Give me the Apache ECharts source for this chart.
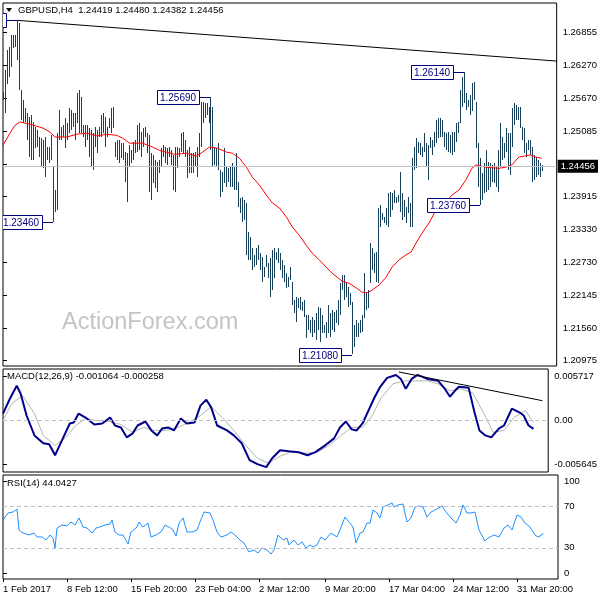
<!DOCTYPE html>
<html>
<head>
<meta charset="utf-8">
<script src="https://cdn.jsdelivr.net/npm/echarts@6/dist/echarts.min.js"></script>
<style>
html,body{margin:0;padding:0;background:#fff}
#chart{width:600px;height:600px}
</style>
</head>
<body>
<div id="chart"></div>
<script>
// GBPUSD H4 bars, high / low per bar (bar index = position on the chart)
const barHigh = [
  1.2578,1.2618,1.2654,1.2659,1.2680,1.2680,1.2680,1.2707,1.2702,1.2582,
  1.2564,1.2550,1.2541,1.2534,1.2537,1.2525,1.2516,1.2510,1.2498,1.2496,
  1.2492,1.2498,1.2480,1.2480,1.2501,1.2444,1.2403,1.2505,1.2546,1.2516,
  1.2519,1.2532,1.2523,1.2550,1.2546,1.2541,1.2541,1.2577,1.2582,1.2569,
  1.2519,1.2519,1.2519,1.2514,1.2510,1.2505,1.2516,1.2510,1.2516,1.2537,
  1.2541,1.2534,1.2516,1.2532,1.2550,1.2551,1.2489,1.2492,1.2492,1.2487,
  1.2487,1.2471,1.2469,1.2483,1.2474,1.2489,1.2492,1.2519,1.2523,1.2507,
  1.2514,1.2516,1.2505,1.2501,1.2469,1.2466,1.2457,1.2453,1.2457,1.2478,
  1.2483,1.2480,1.2478,1.2480,1.2474,1.2466,1.2480,1.2480,1.2478,1.2505,
  1.2507,1.2492,1.2474,1.2480,1.2469,1.2469,1.2471,1.2480,1.2505,1.2560,
  1.2560,1.2559,1.2559,1.2551,1.2569,1.2551,1.2480,1.2478,1.2487,1.2439,
  1.2435,1.2478,1.2444,1.2442,1.2444,1.2451,1.2444,1.2469,1.2417,1.2389,
  1.2390,1.2385,1.2380,1.2328,1.2319,1.2299,1.2287,1.2299,1.2304,1.2290,
  1.2283,1.2265,1.2287,1.2272,1.2281,1.2295,1.2299,1.2292,1.2299,1.2290,
  1.2278,1.2269,1.2254,1.2247,1.2265,1.2238,1.2206,1.2211,1.2210,1.2211,
  1.2202,1.2206,1.2179,1.2179,1.2170,1.2176,1.2170,1.2183,1.2193,1.2192,
  1.2179,1.2161,1.2167,1.2197,1.2183,1.2188,1.2185,1.2188,1.2206,1.2236,
  1.2251,1.2251,1.2236,1.2229,1.2219,1.2202,1.2161,1.2170,1.2165,1.2170,
  1.2179,1.2254,1.2220,1.2224,1.2308,1.2299,1.2290,1.2292,1.2371,1.2376,
  1.2362,1.2355,1.2371,1.2398,1.2399,1.2398,1.2403,1.2390,1.2394,1.2435,
  1.2398,1.2385,1.2372,1.2390,1.2380,1.2460,1.2480,1.2496,1.2489,1.2487,
  1.2480,1.2505,1.2487,1.2483,1.2498,1.2492,1.2507,1.2528,1.2532,1.2532,
  1.2528,1.2507,1.2505,1.2507,1.2501,1.2507,1.2507,1.2523,1.2525,1.2582,
  1.2605,1.2614,1.2577,1.2564,1.2573,1.2594,1.2596,1.2560,1.2487,1.2460,
  1.2433,1.2451,1.2474,1.2453,1.2451,1.2448,1.2451,1.2444,1.2474,1.2523,
  1.2498,1.2487,1.2514,1.2505,1.2505,1.2550,1.2559,1.2555,1.2551,1.2551,
  1.2516,1.2514,1.2487,1.2492,1.2492,1.2480,1.2466,1.2462,1.2457,1.2451,
  1.2448
];
const barLow = [
  1.2564,1.2541,1.2594,1.2605,1.2623,1.2657,1.2659,1.2636,1.2582,1.2528,
  1.2523,1.2525,1.2492,1.2462,1.2457,1.2457,1.2478,1.2480,1.2462,1.2444,
  1.2442,1.2426,1.2457,1.2451,1.2457,1.2346,1.2364,1.2367,1.2492,1.2492,
  1.2498,1.2478,1.2492,1.2505,1.2510,1.2516,1.2492,1.2523,1.2505,1.2505,
  1.2498,1.2480,1.2492,1.2462,1.2444,1.2439,1.2480,1.2469,1.2498,1.2498,
  1.2505,1.2480,1.2498,1.2514,1.2505,1.2514,1.2462,1.2457,1.2451,1.2460,
  1.2457,1.2417,1.2381,1.2444,1.2451,1.2457,1.2469,1.2471,1.2474,1.2462,
  1.2480,1.2498,1.2469,1.2399,1.2385,1.2415,1.2406,1.2399,1.2433,1.2444,
  1.2462,1.2451,1.2448,1.2462,1.2448,1.2403,1.2399,1.2442,1.2462,1.2471,
  1.2469,1.2462,1.2424,1.2433,1.2433,1.2433,1.2444,1.2426,1.2462,1.2480,
  1.2523,1.2532,1.2537,1.2523,1.2474,1.2444,1.2448,1.2444,1.2439,1.2390,
  1.2399,1.2415,1.2408,1.2417,1.2408,1.2408,1.2403,1.2403,1.2372,1.2362,
  1.2346,1.2349,1.2287,1.2278,1.2278,1.2260,1.2265,1.2269,1.2278,1.2260,
  1.2238,1.2247,1.2265,1.2245,1.2211,1.2224,1.2245,1.2278,1.2272,1.2260,
  1.2245,1.2238,1.2228,1.2229,1.2242,1.2197,1.2183,1.2167,1.2192,1.2188,
  1.2185,1.2176,1.2138,1.2152,1.2147,1.2140,1.2147,1.2134,1.2152,1.2131,
  1.2147,1.2147,1.2138,1.2147,1.2140,1.2152,1.2149,1.2165,1.2161,1.2179,
  1.2224,1.2206,1.2211,1.2193,1.2197,1.2108,1.2122,1.2140,1.2140,1.2147,
  1.2149,1.2174,1.2188,1.2192,1.2236,1.2260,1.2254,1.2238,1.2236,1.2337,
  1.2349,1.2344,1.2340,1.2337,1.2355,1.2367,1.2380,1.2380,1.2381,1.2364,
  1.2349,1.2355,1.2344,1.2362,1.2337,1.2337,1.2439,1.2442,1.2469,1.2466,
  1.2462,1.2471,1.2444,1.2421,1.2478,1.2466,1.2480,1.2487,1.2496,1.2498,
  1.2498,1.2480,1.2474,1.2471,1.2469,1.2466,1.2471,1.2489,1.2505,1.2523,
  1.2551,1.2559,1.2546,1.2551,1.2537,1.2543,1.2564,1.2478,1.2408,1.2376,
  1.2385,1.2398,1.2398,1.2403,1.2408,1.2417,1.2415,1.2408,1.2399,1.2444,
  1.2457,1.2460,1.2471,1.2439,1.2430,1.2480,1.2519,1.2528,1.2528,1.2514,
  1.2492,1.2469,1.2462,1.2474,1.2466,1.2417,1.2421,1.2426,1.2430,1.2426,
  1.2438
];

// moving average (red), read every few bars: [bar, price]
const maLine = [
  [0,1.2483],[3.5,1.2505],[6,1.2519],[8.5,1.2525],[13.5,1.2521],[20,1.2514],[23.5,1.2507],
  [26,1.2498],[32,1.2498],[37,1.2503],[42,1.2505],[47,1.2500],[52,1.2503],[57,1.2501],
  [60,1.2496],[63.5,1.2487],[70,1.2487],[75,1.2480],[78.5,1.2474],[86,1.2467],[92,1.2469],
  [97,1.2464],[100,1.2471],[103.5,1.2480],[107.5,1.2478],[112,1.2471],[115,1.2469],
  [118.5,1.2460],[122,1.2444],[125,1.2426],[128.5,1.2412],[132,1.2394],[135,1.2380],
  [138.5,1.2371],[142,1.2355],[145,1.2337],[148.5,1.2322],[152,1.2304],[155,1.2290],
  [158.5,1.2278],[162,1.2265],[165,1.2254],[170,1.2240],[173.5,1.2236],[177,1.2228],
  [180,1.2220],[182.5,1.2219],[185,1.2224],[188.5,1.2233],[192,1.2247],[195,1.2265],
  [198.5,1.2278],[202,1.2287],[204.5,1.2292],[207,1.2308],[210,1.2326],[213.5,1.2344],
  [217,1.2367],[222,1.2381],[225,1.2394],[228.5,1.2403],[232,1.2421],[235,1.2442],
  [237,1.2448],[242,1.2444],[248.5,1.2442],[252,1.2444],[255,1.2448],[258.5,1.2462],
  [264.5,1.2466],[267,1.2462],[270,1.2460]
];

// drawn trend line on price and on MACD
const priceTrend = [[7,1.2707],[277.5,1.2634]];
const macdTrend = [[201.5,0.00622],[274.5,0.00254]];
const lastPrice = 1.24456;

// swing labels: [bar, price, text]
const swingBars = [7, 25, 104, 175, 231, 239];
const swingPrices = [1.2707, 1.2346, 1.2569, 1.2108, 1.2614, 1.2376];
const swingTexts = ['1.27070', '1.23460', '1.25690', '1.21080', '1.26140', '1.23760'];

// MACD(12,26,9): main and signal, [bar, value]
const macdMain = [
  [0,0.00089],[3.5,0.00279],[7,0.00445],[9,0.00343],[12,0.00064],[16,-0.00191],[20.5,-0.00292],
  [23.5,-0.00305],[26.5,-0.00445],[30,-0.00254],[34,-0.00038],[36,-0.00025],[38.5,0.00089],
  [42,0.00038],[46.5,-0.00051],[50.5,-0.00038],[54.5,0.00038],[57,-0.00064],[60,-0.00089],
  [63,-0.00216],[66,-0.00165],[68.5,-0.00064],[72.5,-0.00013],[75.5,-0.00127],[78.5,-0.00191],
  [81,-0.00102],[84,-0.00089],[87,-0.00127],[90.5,0.00025],[93.5,-0.00038],[97.5,-0.00025],
  [100.5,0.00191],[103.5,0.00267],[106,0.00165],[109,-0.00064],[114,-0.00127],[117.5,-0.00191],
  [121.5,-0.00292],[125.5,-0.00508],[129.5,-0.00559],[134,-0.00597],[137,-0.00483],[141,-0.00381],
  [145.5,-0.00394],[150.5,-0.00406],[155,-0.00445],[159,-0.00406],[164,-0.00318],[168.5,-0.00229],
  [171.5,-0.00089],[174.5,-0.00013],[177.5,-0.00114],[180,-0.00127],[183,-0.00038],[186,0.00127],
  [189,0.00292],[192,0.00432],[195.5,0.00546],[200,0.00584],[202.5,0.00533],[205,0.00406],
  [208,0.00533],[211,0.00584],[216,0.00533],[221.5,0.00508],[224.5,0.00419],[227.5,0.00305],
  [230,0.00381],[232,0.00432],[237,0.00419],[240,0.00102],[242.5,-0.00127],[245.5,-0.00191],
  [248.5,-0.00216],[252.5,-0.00102],[255,-0.00064],[259,0.00152],[263,0.00102],[265,0.00064],
  [267.5,-0.00064],[270,-0.001064]
];
const macdSignal = [
  [0,0],[4.5,0.00216],[10,0.00318],[16,0.00089],[20.5,-0.00191],[26.5,-0.00318],[32,-0.00216],
  [37,-0.00064],[42,0.00025],[47.5,0],[54.5,-0.00013],[60,-0.00051],[66,-0.00152],[71.5,-0.00089],
  [77.5,-0.00127],[83,-0.00127],[89,-0.00089],[94.5,-0.00025],[100.5,0.00064],[106,0.00178],
  [112,0.00025],[117.5,-0.00127],[123.5,-0.00318],[129.5,-0.00483],[135,-0.00546],[141,-0.00457],
  [146.5,-0.00406],[154.5,-0.00419],[160,-0.00406],[166,-0.00318],[171.5,-0.00203],[177.5,-0.00089],
  [183,-0.00089],[188,0.00064],[192.5,0.00292],[198.5,0.00470],[204.5,0.00508],[210,0.00508],
  [216,0.00508],[221.5,0.00470],[227.5,0.00381],[233,0.00406],[239,0.00356],[244.5,0.00102],
  [249.5,-0.00152],[255,-0.00127],[260,0.00038],[266,0.00127],[270,-0.000258]
];

// RSI(14), [bar, value]
const rsiLine = [
  [0,56.7],[2.5,63.5],[5,64.4],[7,67.3],[8,47.1],[10,44.2],[13,42.3],[15.5,44.2],[17,40.4],
  [19.5,40.4],[21.5,37.5],[23.5,42.3],[25,39.4],[26,29.8],[27,49.0],[29.5,51.9],[32,51.0],
  [34,54.8],[36,51.9],[38,58.7],[40,50.0],[42,49.0],[44.5,44.2],[46.5,49.0],[48.5,50.0],
  [51,51.9],[53.5,52.9],[54.5,56.7],[56,45.2],[58,42.3],[60,42.3],[62.5,33.7],[64,45.2],
  [67,50.0],[68,54.8],[70,50.0],[72.5,53.8],[74,40.4],[76.5,42.3],[79,45.2],[81,51.9],
  [83,50.0],[85,47.1],[86.5,41.3],[88,53.8],[90,58.7],[92,45.2],[94.5,45.2],[97,47.1],
  [98.5,54.8],[100.5,64.4],[103.5,63.5],[105,56.7],[107,45.2],[109,40.4],[112,42.3],[114,45.2],
  [116,42.3],[118.5,37.5],[120.5,34.6],[123,26.0],[125.5,27.9],[127.5,25.0],[129.5,29.8],
  [132,27.9],[134,24.0],[135.5,27.9],[137.5,42.3],[140,37.5],[142,39.4],[143,32.7],[145.5,37.5],
  [147.5,32.7],[149.5,35.6],[151.5,29.8],[153.5,32.7],[155,30.8],[157,32.7],[159,40.4],
  [161,37.5],[164,44.2],[167,40.4],[168.5,47.1],[171,59.6],[173,54.8],[175,50.0],[176.5,34.6],
  [178.5,44.2],[180,45.2],[182,53.8],[183.5,53.8],[185,66.3],[187,63.5],[188.5,58.7],[190,69.2],
  [192.5,71.2],[194.5,73.1],[195.5,69.2],[197.5,71.2],[200,72.1],[202,54.8],[204,58.7],
  [206,69.2],[208,70.2],[210,69.2],[212,59.6],[214,64.4],[217,67.3],[219.5,70.2],[221.5,64.4],
  [224,58.7],[226.5,53.8],[228.5,61.5],[230,71.2],[232,63.5],[234,63.5],[236,64.4],[238,47.1],
  [241,36.5],[242.5,39.4],[245.5,42.3],[248,40.4],[250.5,49.0],[252.5,51.9],[254.5,47.1],
  [257,61.5],[259,59.6],[261,53.8],[263.5,50.0],[266,42.3],[267.5,40.4],[269.5,42.3],[270,44.04]
];

// axis ticks
const priceTicks = [1.26855,1.26270,1.25670,1.25085,1.24500,1.23915,1.23330,1.22730,1.22145,1.21560,1.20975];
const macdTicks = [0.005717, 0, -0.005645];
// MT4 draws the 0 / 100 RSI labels just inside the window edges
const rsiTickAt = [5.8, 30, 70, 93.8];
const rsiTickText = ['0', '30', '70', '100'];
const timeTickBars = [0, 32, 64, 96, 128, 161, 193, 225, 257];
const timeTickLabels = ['1 Feb 2017','8 Feb 12:00','15 Feb 20:00','23 Feb 04:00','2 Mar 12:00','9 Mar 20:00','17 Mar 04:00','24 Mar 12:00','31 Mar 20:00'];

const FONT = 'Liberation Sans';
const FS = 9.5;
const barColor = '#17405a';
const navy = '#000080';

const chart = echarts.init(document.getElementById('chart'));

function xAxisFor(gridIndex, showLabels) {
  return {
    type: 'value', gridIndex: gridIndex, min: 0, max: 277.5,
    axisLine: { show: false },
    splitLine: { show: false },
    axisTick: { show: showLabels, customValues: timeTickBars, length: 3, lineStyle: { color: '#000' } },
    axisLabel: {
      show: showLabels, customValues: timeTickBars, align: 'left', margin: 5,
      color: '#000', fontFamily: FONT, fontSize: FS,
      formatter: function (v) { return timeTickLabels[timeTickBars.indexOf(v)] || ''; }
    }
  };
}

function yAxisFor(gridIndex, min, max, ticks, fmt) {
  return {
    type: 'value', gridIndex: gridIndex, position: 'right', min: min, max: max,
    axisLine: { show: false },
    splitLine: { show: false },
    axisTick: { show: true, customValues: ticks, length: 4, lineStyle: { color: '#000' } },
    axisLabel: {
      customValues: ticks, margin: 6, color: '#000', fontFamily: FONT, fontSize: FS,
      formatter: fmt
    }
  };
}

function renderBar(params, api) {
  const top = api.coord([api.value(0), api.value(1)]);
  const bot = api.coord([api.value(0), api.value(2)]);
  return {
    type: 'rect',
    shape: { x: Math.round(top[0]), y: Math.round(top[1]), width: 1, height: Math.max(1, Math.round(bot[1] - top[1])) },
    style: { fill: barColor }
  };
}

function renderSwing(params, api) {
  const p = api.coord([api.value(0), api.value(1)]);
  const px = Math.round(p[0]);
  const py = Math.round(p[1]) + 0.5;
  const bx = px - 11;
  return {
    type: 'group',
    children: [
      { type: 'line', shape: { x1: bx, y1: py, x2: px, y2: py }, style: { stroke: navy, lineWidth: 1 } },
      { type: 'rect', shape: { x: bx - 42 + 0.5, y: py - 7, width: 42, height: 14 }, style: { fill: '#fff', stroke: navy, lineWidth: 1 } },
      { type: 'text', style: { text: swingTexts[params.dataIndex], x: bx - 21, y: py + 1, align: 'center', verticalAlign: 'middle', fontFamily: FONT, fontSize: 10, fill: navy } }
    ]
  };
}

chart.setOption({
  animation: false,
  backgroundColor: '#fff',
  grid: [
    { left: 3, top: 3, width: 555, height: 363, show: true, borderColor: '#000', borderWidth: 1 },
    { left: 3, top: 369, width: 555, height: 103, show: true, borderColor: '#000', borderWidth: 1 },
    { left: 3, top: 475, width: 555, height: 104, show: true, borderColor: '#000', borderWidth: 1 }
  ],
  xAxis: [xAxisFor(0, false), xAxisFor(1, false), xAxisFor(2, true)],
  yAxis: [
    yAxisFor(0, 1.2088, 1.2738, priceTicks, function (v) { return v.toFixed(5); }),
    yAxisFor(1, -0.0066, 0.0066, macdTicks, function (v) { return v === 0 ? '0.00' : v.toFixed(6); }),
    yAxisFor(2, 0, 100, rsiTickAt, function (v) { return rsiTickText[rsiTickAt.indexOf(v)] || ''; })
  ],
  graphic: [
    { type: 'polygon', shape: { points: [[6, 8], [12, 8], [9, 12]] }, style: { fill: '#000' } },
    { type: 'text', left: 18, top: 5, style: { text: 'GBPUSD,H4  1.24419 1.24480 1.24382 1.24456', fontFamily: FONT, fontSize: FS, fill: '#000' } },
    { type: 'text', left: 62, top: 311, z: -1, style: { text: 'ActionForex.com', fontFamily: FONT, fontSize: 23.5, fill: '#c4c4c4' } },
    { type: 'text', left: 7, top: 371, style: { text: 'MACD(12,26,9) -0.001064 -0.000258', fontFamily: FONT, fontSize: FS, fill: '#000' } },
    { type: 'text', left: 7, top: 478, style: { text: 'RSI(14) 44.0427', fontFamily: FONT, fontSize: FS, fill: '#000' } }
  ],
  series: [
    {
      type: 'line', xAxisIndex: 0, yAxisIndex: 0, data: priceTrend, symbol: 'none', z: 1,
      lineStyle: { color: '#000', width: 1 },
      markLine: {
        silent: true, symbol: ['none', 'none'], precision: 5,
        lineStyle: { color: '#c0c0c0', type: 'solid', width: 1 },
        label: { show: true, position: 'end', distance: 1, formatter: lastPrice.toFixed(5), backgroundColor: '#000', color: '#fff', padding: [2, 3, 1, 3], fontFamily: FONT, fontSize: FS },
        data: [{ yAxis: lastPrice }]
      }
    },
    {
      type: 'custom', xAxisIndex: 0, yAxisIndex: 0, clip: true, z: 3,
      data: barHigh.map(function (h, i) { return [i, h, barLow[i]]; }),
      renderItem: renderBar
    },
    {
      type: 'line', xAxisIndex: 0, yAxisIndex: 0, data: maLine, symbol: 'none', z: 4,
      lineStyle: { color: '#ff0000', width: 1 }
    },
    {
      type: 'custom', xAxisIndex: 0, yAxisIndex: 0, clip: true, z: 5,
      data: swingBars.map(function (b, i) { return [b, swingPrices[i]]; }),
      renderItem: renderSwing
    },
    {
      type: 'line', xAxisIndex: 1, yAxisIndex: 1, data: macdSignal, symbol: 'none', z: 2,
      lineStyle: { color: '#b4b4b4', width: 1 },
      markLine: {
        silent: true, symbol: ['none', 'none'], label: { show: false },
        lineStyle: { color: '#c0c0c0', type: [4, 3], width: 1 },
        data: [{ yAxis: 0 }]
      }
    },
    {
      type: 'line', xAxisIndex: 1, yAxisIndex: 1, data: macdMain, symbol: 'none', z: 3,
      lineStyle: { color: '#00008b', width: 2 }
    },
    {
      type: 'line', xAxisIndex: 1, yAxisIndex: 1, data: macdTrend, symbol: 'none', z: 4,
      lineStyle: { color: '#000', width: 1 }
    },
    {
      type: 'line', xAxisIndex: 2, yAxisIndex: 2, data: rsiLine, symbol: 'none', z: 3,
      lineStyle: { color: '#1e90ff', width: 1 },
      markLine: {
        silent: true, symbol: ['none', 'none'], label: { show: false },
        lineStyle: { color: '#c0c0c0', type: [4, 3], width: 1 },
        data: [{ yAxis: 30 }, { yAxis: 70 }]
      }
    }
  ]
});
</script>
</body>
</html>
